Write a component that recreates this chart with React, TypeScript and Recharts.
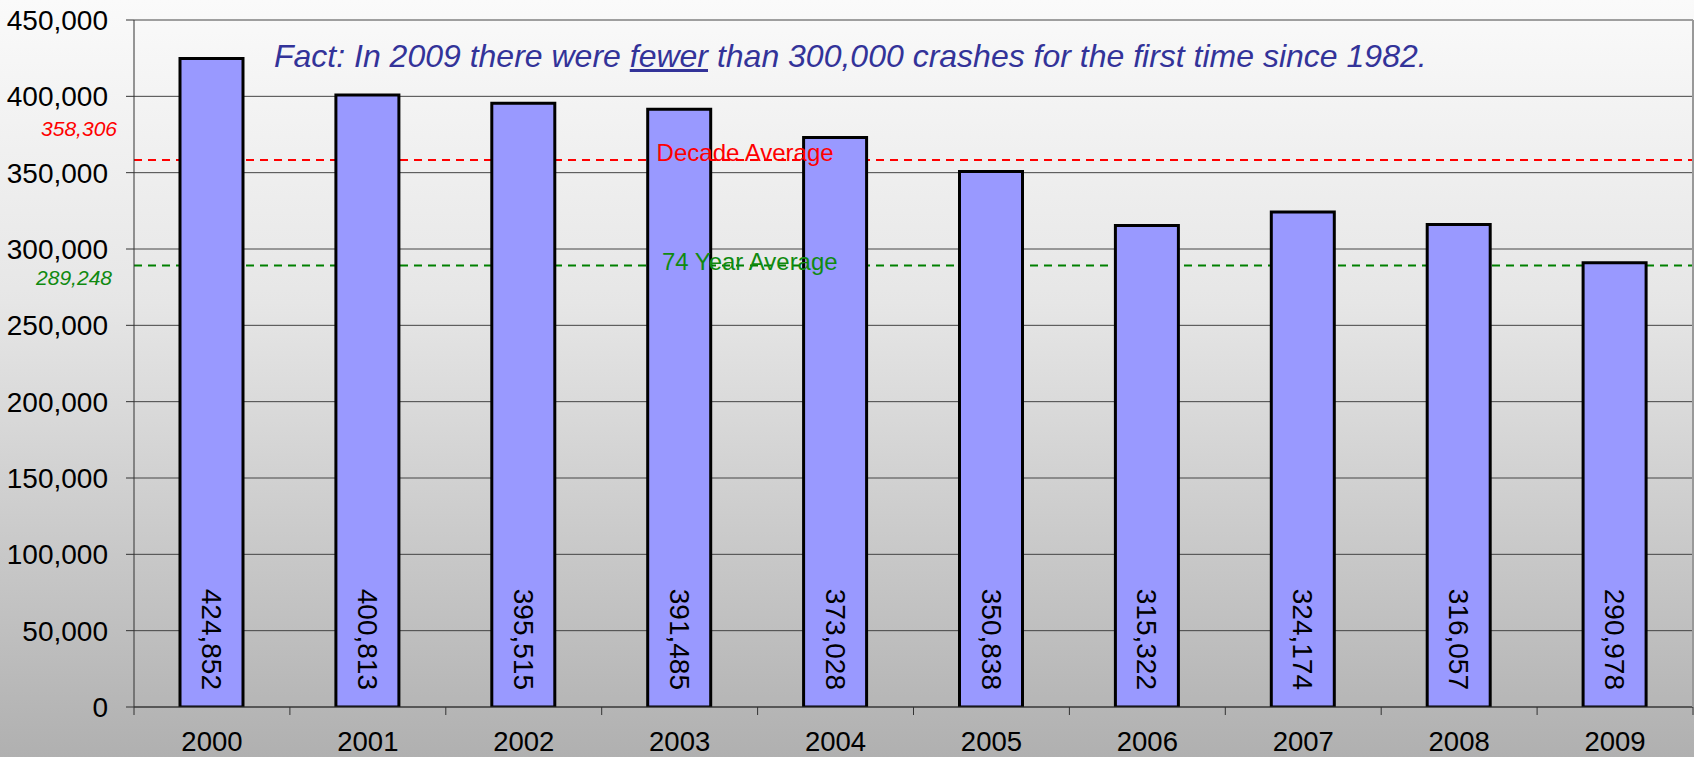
import React from "react";
import {
  BarChart,
  Bar,
  XAxis,
  YAxis,
  CartesianGrid,
  ReferenceLine,
  LabelList,
} from "recharts";

const years = ["2000", "2001", "2002", "2003", "2004", "2005", "2006", "2007", "2008", "2009"];
const crashes = [424852, 400813, 395515, 391485, 373028, 350838, 315322, 324174, 316057, 290978];
const yTicks = [0, 50000, 100000, 150000, 200000, 250000, 300000, 350000, 400000, 450000];
const decadeAverage = 358306;
const longTermAverage = 289248;
const decadeLabel = "Decade Average";
const longTermLabel = "74 Year Average";
const titleBefore = "Fact: In 2009 there were ";
const titleStress = "fewer";
const titleAfter = " than 300,000 crashes for the first time since 1982.";

const data = years.map((year, i) => ({ year, crashes: crashes[i] }));

const FONT = '"Liberation Sans", Arial, Helvetica, sans-serif';
const fmt = (v: number) => Number(v).toLocaleString("en-US");

function YearTick(props: any) {
  const { x, y, payload, index } = props;
  const half = payload?.offset ?? 78;
  return (
    <g>
      <line x1={x - half} x2={x - half} y1={y - 24} y2={y - 16} stroke="#333" />
      {index === years.length - 1 && (
        <line x1={x + half} x2={x + half} y1={y - 24} y2={y - 16} stroke="#333" />
      )}
      <text x={x} y={y} dy="0.71em" textAnchor="middle" fontSize={27.5} fill="#000" fontFamily={FONT}>
        {payload.value}
      </text>
    </g>
  );
}

function InsideLabel(props: any) {
  const { x, y, width, height, value } = props;
  const cx = Number(x) + Number(width) / 2;
  const by = Number(y) + Number(height) - 17;
  return (
    <text
      transform={`translate(${cx},${by}) rotate(90)`}
      textAnchor="end"
      dominantBaseline="central"
      fontSize={28}
      fill="#000"
      fontFamily={FONT}
    >
      {fmt(value)}
    </text>
  );
}

function averageLabel(value: number, name: string, color: string, above: boolean, frac: number) {
  return (props: any) => {
    const vb = props.viewBox || {};
    const x = Number(vb.x);
    const y = Number(vb.y);
    const w = Number(vb.width);
    return (
      <g>
        <text
          x={x - 17 - (above ? 0 : 5)}
          y={above ? y - 24 : y + 20}
          textAnchor="end"
          fontSize={21}
          fontStyle="italic"
          fill={color}
          fontFamily={FONT}
        >
          {fmt(value)}
        </text>
        <text
          x={x + w * frac}
          y={above ? y + 1 : y + 5}
          textAnchor="middle"
          fontSize={24}
          fill={color}
          fontFamily={FONT}
        >
          {name}
        </text>
      </g>
    );
  };
}

export default function App() {
  return (
    <div
      style={{
        position: "absolute",
        left: 0,
        top: 0,
        width: 1694,
        height: 757,
        background: "linear-gradient(to bottom, #fafafa 0%, #e6e6e6 40%, #b0b0b0 100%)",
        fontFamily: FONT,
      }}
    >
      <BarChart
        width={1694}
        height={757}
        data={data}
        margin={{ top: 20, right: 0, left: 0, bottom: 0 }}
      >
        <CartesianGrid vertical={false} stroke="#444" />
        <XAxis
          dataKey="year"
          height={50}
          tickSize={8}
          tickMargin={16}
          tickLine={false}
          axisLine={{ stroke: "#333" }}
          tick={<YearTick />}
          interval={0}
        />
        <YAxis
          width={134}
          domain={[0, 450000]}
          ticks={yTicks}
          tickFormatter={fmt}
          tickSize={8}
          tickMargin={18}
          axisLine={{ stroke: "#333" }}
          tickLine={{ stroke: "#333" }}
          tick={{ fill: "#000", fontSize: 28, fontFamily: FONT }}
          allowDataOverflow
        />
        <YAxis
          yAxisId="frame"
          orientation="right"
          width={1}
          tick={false}
          tickLine={false}
          axisLine={{ stroke: "#999", strokeWidth: 2 }}
        />
        <ReferenceLine
          y={decadeAverage}
          stroke="#ff0000"
          strokeWidth={2}
          strokeDasharray="8 6"
          zIndex={250}
        />
        <ReferenceLine
          y={longTermAverage}
          stroke="#008000"
          strokeWidth={2}
          strokeDasharray="8 6"
          zIndex={250}
        />
        <Bar
          dataKey="crashes"
          fill="#9999ff"
          stroke="#000"
          strokeWidth={3}
          barSize={63}
          isAnimationActive={false}
        >
          <LabelList dataKey="crashes" content={<InsideLabel />} />
        </Bar>
        <ReferenceLine
          y={decadeAverage}
          stroke="none"
          zIndex={2000}
          label={averageLabel(decadeAverage, decadeLabel, "#ff0000", true, 0.392)}
        />
        <ReferenceLine
          y={longTermAverage}
          stroke="none"
          zIndex={2000}
          label={averageLabel(longTermAverage, longTermLabel, "#108a10", false, 0.395)}
        />
      </BarChart>
      <div
        style={{
          position: "absolute",
          left: 274,
          top: 40,
          fontSize: 32,
          lineHeight: "32px",
          fontStyle: "italic",
          color: "#333399",
          whiteSpace: "nowrap",
        }}
      >
        {titleBefore}
        <span style={{ textDecoration: "underline", textDecorationThickness: 3 }}>{titleStress}</span>
        {titleAfter}
      </div>
    </div>
  );
}
